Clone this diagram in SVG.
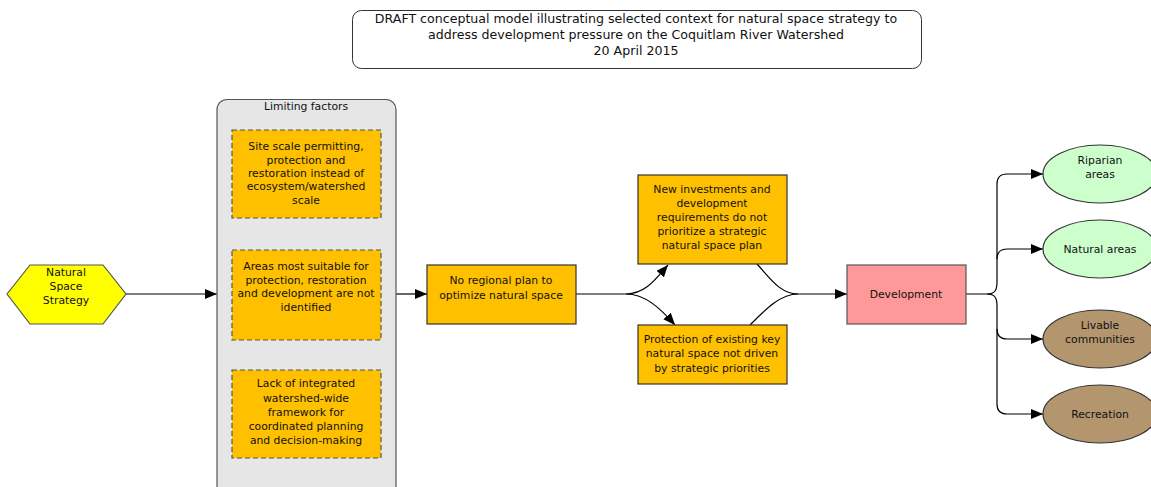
<svg xmlns="http://www.w3.org/2000/svg" width="1151" height="487" viewBox="0 0 1151 487">
  <defs>
    <marker id="arrow" viewBox="0 0 12 10" refX="12" refY="5" markerWidth="12" markerHeight="10" markerUnits="userSpaceOnUse" orient="auto">
      <path d="M0,0 L12,5 L0,10 Z" fill="#000"/>
    </marker>
    <style>
      text { font-family: "DejaVu Sans", Verdana, sans-serif; font-size: 10.8px; fill: #111; text-anchor: middle; }
      .title { font-size: 12.6px; }
      .box { fill: #FFC000; stroke: #333; stroke-width: 1.2; }
      .dash { fill: #FFC000; stroke: #555; stroke-width: 1.2; stroke-dasharray: 5 3; }
      .edge { fill: none; stroke: #000; stroke-width: 1.2; }
      .green { fill: #CCFFCC; stroke: #333; stroke-width: 1.2; }
      .brown { fill: #B3966E; stroke: #333; stroke-width: 1.2; }
    </style>
  </defs>

  <!-- Title -->
  <g id="title">
    <rect x="352.5" y="10.5" width="569" height="58" rx="9" fill="#fff" stroke="#333" stroke-width="1"/>
    <text class="title" x="636" y="23">DRAFT conceptual model illustrating selected context for natural space strategy to</text>
    <text class="title" x="636" y="39">address development pressure on the Coquitlam River Watershed</text>
    <text class="title" x="636" y="55">20 April 2015</text>
  </g>

  <!-- Connectors -->
  <g id="connectors">
    <path class="edge" d="M126,294 H217" marker-end="url(#arrow)"/>
    <path class="edge" d="M396,294 H427" marker-end="url(#arrow)"/>
    <path class="edge" d="M576,294 H626 C645,294 655,280 668,265" marker-end="url(#arrow)"/>
    <path class="edge" d="M626,294 C645,294 660,308 675,325" marker-end="url(#arrow)"/>
    <path class="edge" d="M757,264 C770,278 780,294 798,294"/>
    <path class="edge" d="M750,325 C765,310 780,294 798,294 H847" marker-end="url(#arrow)"/>
    <path class="edge" d="M966,294 H987 C995,294 997,290 997,282 V184 C997,177 1000,174 1007,174 H1043" marker-end="url(#arrow)"/>
    <path class="edge" d="M997,259 C997,252 1000,249 1007,249 H1043" marker-end="url(#arrow)"/>
    <path class="edge" d="M987,294 C995,294 997,298 997,306 V404 C997,411 1000,414 1007,414 H1043" marker-end="url(#arrow)"/>
    <path class="edge" d="M997,329 C997,336 1000,339 1007,339 H1043" marker-end="url(#arrow)"/>
  </g>

  <!-- Natural Space Strategy -->
  <g id="natural-space-strategy">
    <polygon points="7,294 30,265 103,265 126,294 103,324 30,324" fill="#FFFF00" stroke="#555" stroke-width="1.2"/>
    <text x="66" y="276">Natural</text>
    <text x="66" y="290">Space</text>
    <text x="66" y="304">Strategy</text>
  </g>

  <!-- Limiting factors container -->
  <g id="limiting-factors">
    <rect x="217" y="99.5" width="179" height="400" rx="10" fill="#E6E6E6" stroke="#555" stroke-width="1.2"/>
    <text x="306" y="110">Limiting factors</text>
  </g>

  <g id="site-scale">
    <rect class="dash" x="232" y="130" width="149" height="88"/>
    <text x="306" y="150">Site scale permitting,</text>
    <text x="306" y="164">protection and</text>
    <text x="306" y="177">restoration instead of</text>
    <text x="306" y="190">ecosystem/watershed</text>
    <text x="306" y="204">scale</text>
  </g>

  <g id="areas-not-identified">
    <rect class="dash" x="232" y="250" width="149" height="90"/>
    <text x="306" y="270">Areas most suitable for</text>
    <text x="306" y="284">protection, restoration</text>
    <text x="306" y="297">and development are not</text>
    <text x="306" y="311">identified</text>
  </g>

  <g id="lack-of-framework">
    <rect class="dash" x="232" y="370" width="149" height="88"/>
    <text x="306" y="387">Lack of integrated</text>
    <text x="306" y="402">watershed-wide</text>
    <text x="306" y="416">framework for</text>
    <text x="306" y="430">coordinated planning</text>
    <text x="306" y="444">and decision-making</text>
  </g>

  <!-- Main chain -->
  <g id="no-regional-plan">
    <rect class="box" x="427" y="265" width="149" height="59"/>
    <text x="501" y="284">No regional plan to</text>
    <text x="501" y="299">optimize natural space</text>
  </g>

  <g id="new-investments">
    <rect class="box" x="638" y="175" width="149" height="89"/>
    <text x="712" y="193">New investments and</text>
    <text x="712" y="207">development</text>
    <text x="712" y="221">requirements do not</text>
    <text x="712" y="235">prioritize a strategic</text>
    <text x="712" y="249">natural space plan</text>
  </g>

  <g id="protection-existing">
    <rect class="box" x="638" y="325" width="149" height="59"/>
    <text x="712" y="343">Protection of existing key</text>
    <text x="712" y="357">natural space not driven</text>
    <text x="712" y="372">by strategic priorities</text>
  </g>

  <g id="development">
    <rect x="847" y="265" width="119" height="59" fill="#FF9999" stroke="#555" stroke-width="1.2"/>
    <text x="906" y="298">Development</text>
  </g>

  <!-- Outcomes -->
  <g id="riparian-areas">
    <ellipse class="green" cx="1100" cy="174" rx="57" ry="29"/>
    <text x="1100" y="164">Riparian</text>
    <text x="1100" y="178">areas</text>
  </g>
  <g id="natural-areas">
    <ellipse class="green" cx="1100" cy="249" rx="57" ry="29"/>
    <text x="1100" y="253">Natural areas</text>
  </g>
  <g id="livable-communities">
    <ellipse class="brown" cx="1100" cy="339" rx="57" ry="29"/>
    <text x="1100" y="329">Livable</text>
    <text x="1100" y="343">communities</text>
  </g>
  <g id="recreation">
    <ellipse class="brown" cx="1100" cy="414" rx="57" ry="29"/>
    <text x="1100" y="418">Recreation</text>
  </g>
</svg>
